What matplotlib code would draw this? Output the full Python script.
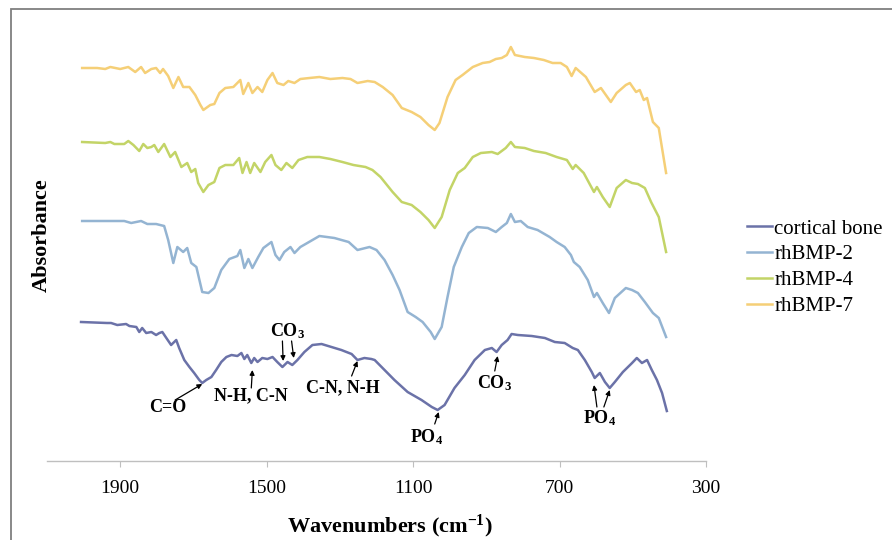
import numpy as np
import matplotlib.pyplot as plt
from matplotlib.patches import Rectangle

plt.rcParams['font.family'] = 'Liberation Serif'
plt.rcParams['mathtext.fontset'] = 'custom'
plt.rcParams['mathtext.rm'] = 'Liberation Serif:bold'
plt.rcParams['mathtext.it'] = 'Liberation Serif:bold'
plt.rcParams['mathtext.bf'] = 'Liberation Serif:bold'

# spectra (wavenumber in cm-1, absorbance in arbitrary offset units)
bone_wn = [2007, 1936, 1925, 1908, 1884, 1875, 1856, 1848, 1840, 1829, 1815, 1802, 1793, 1785, 1774, 1761,
           1747, 1739, 1725, 1711, 1698, 1684, 1676, 1665, 1651, 1638, 1624, 1610, 1596, 1580, 1569, 1561,
           1553, 1542, 1534, 1525, 1512, 1498, 1484, 1471, 1457, 1443, 1430, 1416, 1397, 1375, 1350, 1323,
           1296, 1268, 1252, 1233, 1214, 1205, 1178, 1151, 1115, 1077, 1049, 1033, 1014, 987, 959, 932,
           904, 885, 872, 858, 842, 831, 814, 776, 740, 713, 686, 664, 650, 631, 612, 604, 590, 576, 563,
           549, 527, 502, 489, 475, 461, 448, 434, 420, 407]
bone_abs = [1.39, 1.38, 1.38, 1.36, 1.37, 1.35, 1.34, 1.29, 1.33, 1.28, 1.29, 1.26, 1.28, 1.29, 1.23, 1.16,
            1.21, 1.13, 1.01, 0.94, 0.88, 0.81, 0.78, 0.81, 0.84, 0.91, 0.99, 1.04, 1.06, 1.05, 1.08, 1.02,
            1.06, 0.98, 1.03, 0.99, 1.03, 1.02, 1.04, 0.99, 0.94, 0.99, 0.96, 1.01, 1.09, 1.16, 1.17, 1.14,
            1.11, 1.07, 1.01, 1.03, 1.02, 1.01, 0.91, 0.81, 0.69, 0.61, 0.54, 0.51, 0.56, 0.73, 0.86, 1.01,
            1.11, 1.13, 1.09, 1.16, 1.21, 1.27, 1.26, 1.25, 1.23, 1.19, 1.18, 1.13, 1.11, 1.01, 0.89, 0.83,
            0.88, 0.79, 0.73, 0.79, 0.89, 0.98, 1.03, 0.98, 1.01, 0.91, 0.81, 0.68, 0.50]

bmp2_wn = [2004, 1889, 1870, 1843, 1826, 1802, 1780, 1769, 1755, 1744, 1728, 1717, 1706, 1692, 1676, 1659,
           1643, 1624, 1602, 1580, 1572, 1561, 1550, 1539, 1523, 1509, 1498, 1487, 1476, 1465, 1452, 1435,
           1424, 1408, 1389, 1356, 1315, 1276, 1252, 1219, 1200, 1178, 1156, 1137, 1115, 1093, 1074, 1052,
           1041, 1022, 1006, 989, 967, 948, 926, 896, 874, 858, 844, 833, 822, 806, 787, 760, 727, 708,
           686, 669, 661, 645, 623, 606, 598, 582, 565, 549, 519, 502, 486, 467, 445, 429, 409]
bmp2_abs = [2.40, 2.40, 2.38, 2.40, 2.37, 2.37, 2.35, 2.21, 1.98, 2.14, 2.09, 2.13, 1.98, 1.94, 1.69, 1.68,
            1.73, 1.91, 2.02, 2.05, 2.11, 1.93, 2.02, 1.93, 2.04, 2.13, 2.16, 2.19, 2.06, 2.01, 2.09, 2.14,
            2.08, 2.14, 2.18, 2.25, 2.23, 2.19, 2.11, 2.14, 2.11, 2.01, 1.86, 1.71, 1.49, 1.44, 1.39, 1.29,
            1.22, 1.34, 1.64, 1.94, 2.14, 2.28, 2.34, 2.33, 2.29, 2.34, 2.38, 2.47, 2.39, 2.40, 2.34, 2.31,
            2.24, 2.19, 2.14, 2.06, 1.99, 1.94, 1.81, 1.64, 1.68, 1.58, 1.48, 1.63, 1.73, 1.71, 1.68, 1.59,
            1.48, 1.43, 1.24]

bmp4_wn = [2004, 1941, 1927, 1916, 1889, 1878, 1864, 1848, 1837, 1826, 1815, 1807, 1796, 1780, 1763, 1750,
           1733, 1717, 1706, 1695, 1687, 1673, 1659, 1643, 1629, 1613, 1591, 1575, 1566, 1555, 1545, 1534,
           1517, 1504, 1487, 1476, 1460, 1446, 1430, 1413, 1389, 1356, 1326, 1293, 1263, 1230, 1211, 1189,
           1156, 1131, 1104, 1080, 1058, 1041, 1022, 1000, 978, 959, 937, 915, 885, 869, 847, 833, 822,
           795, 770, 738, 708, 680, 664, 656, 634, 606, 598, 582, 563, 544, 519, 502, 486, 467, 450, 429,
           409]
bmp4_abs = [3.19, 3.18, 3.19, 3.17, 3.17, 3.20, 3.16, 3.10, 3.17, 3.13, 3.14, 3.16, 3.09, 3.17, 3.04, 3.09,
            2.94, 2.98, 2.89, 2.92, 2.78, 2.69, 2.76, 2.79, 2.93, 2.96, 2.96, 3.03, 2.88, 2.99, 2.88, 2.98,
            2.89, 2.99, 3.06, 2.96, 2.91, 2.98, 2.93, 3.01, 3.04, 3.04, 3.02, 2.99, 2.96, 2.94, 2.91, 2.84,
            2.69, 2.59, 2.56, 2.49, 2.41, 2.33, 2.44, 2.71, 2.88, 2.93, 3.04, 3.08, 3.09, 3.07, 3.13, 3.19,
            3.14, 3.13, 3.10, 3.08, 3.04, 3.01, 2.92, 2.96, 2.88, 2.69, 2.74, 2.64, 2.54, 2.73, 2.81, 2.78,
            2.77, 2.73, 2.59, 2.44, 2.09]

bmp7_wn = [2004, 1963, 1941, 1927, 1900, 1878, 1859, 1843, 1832, 1815, 1802, 1791, 1783, 1769, 1755, 1741,
           1728, 1711, 1695, 1681, 1673, 1654, 1643, 1629, 1613, 1591, 1572, 1564, 1550, 1539, 1525, 1512,
           1498, 1484, 1471, 1454, 1441, 1424, 1408, 1383, 1356, 1326, 1293, 1271, 1252, 1224, 1205, 1183,
           1156, 1131, 1104, 1080, 1058, 1041, 1028, 1006, 984, 965, 937, 910, 891, 874, 858, 844, 833,
           822, 795, 770, 743, 719, 697, 680, 667, 656, 628, 604, 587, 560, 544, 519, 508, 491, 481, 470,
           461, 445, 429, 409]
bmp7_abs = [3.93, 3.93, 3.92, 3.94, 3.92, 3.94, 3.89, 3.94, 3.88, 3.92, 3.93, 3.88, 3.92, 3.85, 3.73, 3.84,
            3.74, 3.74, 3.66, 3.56, 3.51, 3.56, 3.57, 3.68, 3.73, 3.74, 3.81, 3.67, 3.78, 3.68, 3.74, 3.69,
            3.81, 3.88, 3.78, 3.76, 3.80, 3.78, 3.82, 3.83, 3.84, 3.82, 3.83, 3.82, 3.78, 3.80, 3.79, 3.74,
            3.66, 3.53, 3.49, 3.44, 3.36, 3.31, 3.38, 3.64, 3.81, 3.86, 3.94, 3.98, 3.99, 4.02, 4.03, 4.06,
            4.14, 4.06, 4.04, 4.03, 4.01, 3.98, 3.98, 3.94, 3.85, 3.93, 3.84, 3.69, 3.73, 3.59, 3.68, 3.76,
            3.78, 3.69, 3.71, 3.61, 3.63, 3.39, 3.33, 2.88]

series = [("cortical bone", bone_wn, bone_abs, "#6b72a8"),
          ("rhBMP-2", bmp2_wn, bmp2_abs, "#94b4d2"),
          ("rhBMP-4", bmp4_wn, bmp4_abs, "#c3d467"),
          ("rhBMP-7", bmp7_wn, bmp7_abs, "#f5cf77")]

xticks = [1900, 1500, 1100, 700, 300]

# peak labels: text, label position, list of (arrow tail, arrow head)
peaks = [("C=O", (1771, 0.54), [((1750, 0.61), (1676, 0.77))]),
         ("N-H, C-N", (1542, 0.65), [((1542, 0.73), (1539, 0.91))]),
         ("CO$_3$", (1443, 1.30), [((1457, 1.20), (1455, 1.00)), ((1432, 1.20), (1426, 1.03))]),
         ("C-N, N-H", (1293, 0.73), [((1268, 0.85), (1252, 1.00))]),
         ("PO$_4$", (1063, 0.24), [((1041, 0.37), (1030, 0.49))]),
         ("CO$_3$", (877, 0.78), [((877, 0.90), (869, 1.05))]),
         ("PO$_4$", (590, 0.43), [((598, 0.54), (606, 0.76)), ((579, 0.54), (563, 0.71))])]

fig = plt.figure(figsize=(8.92, 5.4), dpi=100)
ax = fig.add_axes([47/892, 79/540, 659/892, 431/540])

for name, wn, ab, col in series:
    ax.plot(wn, ab, color=col, linewidth=1.8, label=name)

for txt, pos, arrows in peaks:
    ax.text(pos[0], pos[1], txt, ha='center', va='center', fontsize=13, fontweight='bold')
    for tail, head in arrows:
        ax.annotate("", xy=head, xytext=tail,
                    arrowprops=dict(arrowstyle='-|>', color='black', lw=0.9, mutation_scale=7,
                                    shrinkA=0, shrinkB=0))

ax.set_xlim(2100, 300)
ax.set_ylim(0, 4.31)
ax.set_xticks(xticks)
ax.set_yticks([])
for s in ['top', 'right', 'left']:
    ax.spines[s].set_visible(False)
ax.spines['bottom'].set_color('#bfbfbf')
ax.spines['bottom'].set_linewidth(1.0)
ax.tick_params(axis='x', direction='out', length=4.5, color='#bfbfbf', labelsize=14, pad=9)

ax.set_xlabel("Wavenumbers (cm$^{-1}$)", fontsize=16, fontweight='bold')
ax.xaxis.set_label_coords(0.52, -0.12)
ax.set_ylabel("Absorbance", fontsize=16, fontweight='bold')
ax.yaxis.set_label_coords(0.008, 0.524)

fig.legend(loc='upper left', bbox_to_anchor=(747/892, 1 - 219/540), frameon=False, fontsize=15,
           handlelength=1.2, handletextpad=0.12, labelspacing=0.3, borderpad=0, borderaxespad=0)

fig.add_artist(Rectangle((11/892, -0.05), 1.2, 1 - 9/540 + 0.05, transform=fig.transFigure,
                         fill=False, edgecolor='#7f7f7f', linewidth=1.3))

fig.savefig("out.png", dpi=100)
